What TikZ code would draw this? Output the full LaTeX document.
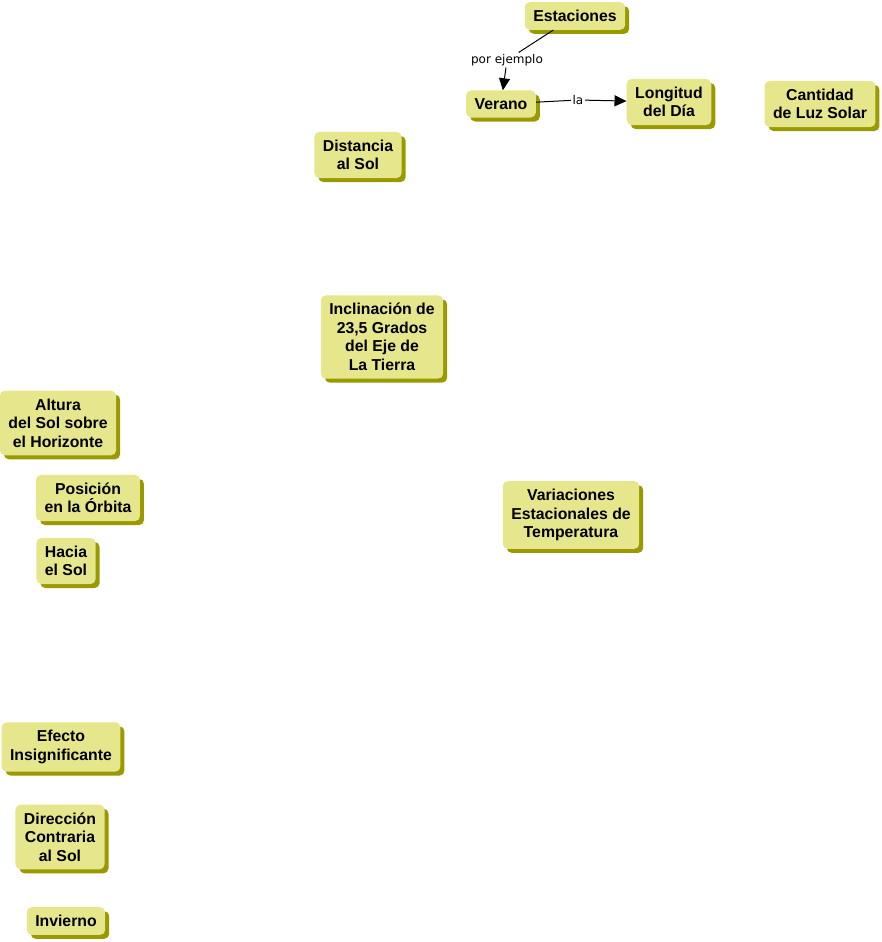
\documentclass[tikz,border=0pt]{standalone}
\usepackage{fontspec}
\setmainfont{Liberation Sans}
\newfontfamily\linkfont{DejaVu Sans}
\usepackage{xcolor}
\usepackage{tikz}
\usetikzlibrary{shadows,arrows.meta}
\definecolor{conceptfill}{RGB}{230,230,140}
\definecolor{conceptshade}{RGB}{153,153,0}

\begin{document}
\begin{tikzpicture}[x=1pt, y=-1pt,
	concept/.style={rounded corners=5pt, fill=conceptfill, align=center,
		inner xsep=8.5pt, inner ysep=8pt,
		font=\fontsize{15.8}{18.5}\selectfont\bfseries,
		drop shadow={shadow xshift=4pt, shadow yshift=-4pt, fill=conceptshade, opacity=1}},
	linklabel/.style={fill=white, inner sep=1.5pt, font=\linkfont\fontsize{12}{14}\selectfont},
	link/.style={draw=black, line width=1pt},
	linkarrow/.style={link, -{Triangle[length=12pt, width=11pt]}}]
	\useasboundingbox (0, 0) rectangle (882, 942);
	% Concepts:
	\node[concept] (estaciones) at (575, 16) {Estaciones};
	\node[concept] (verano) at (501, 104) {Verano};
	\node[concept] (longitud) at (669, 102) {Longitud\\del Día};
	\node[concept] (cantidad) at (820, 104) {Cantidad\\de Luz Solar};
	\node[concept] (distancia) at (358, 155) {Distancia\\al Sol};
	\node[concept] (inclinacion) at (382, 337) {Inclinación de\\23,5 Grados\\del Eje de\\La Tierra};
	\node[concept] (altura) at (58, 423) {Altura\\del Sol sobre\\el Horizonte};
	\node[concept] (posicion) at (88, 498) {Posición\\en la Órbita};
	\node[concept] (hacia) at (66, 561) {Hacia\\el Sol};
	\node[concept] (variaciones) at (571, 515) {Variaciones\\Estacionales de\\Temperatura};
	\node[concept] (efecto) at (61, 747) {Efecto\\Insignificante};
	\node[concept] (contraria) at (60, 837) {Dirección\\Contraria\\al Sol};
	\node[concept] (invierno) at (66, 921) {Invierno};
	% Links:
	\node[linklabel] (porejemplo) at (507, 60) {por ejemplo};
	\node[linklabel] (la) at (578, 100) {la};
	\draw[link] (estaciones) -- (porejemplo);
	\draw[linkarrow] (porejemplo) -- (verano);
	\draw[link] (verano) -- (la);
	\draw[linkarrow] (la) -- (longitud);
\end{tikzpicture}
\end{document}
